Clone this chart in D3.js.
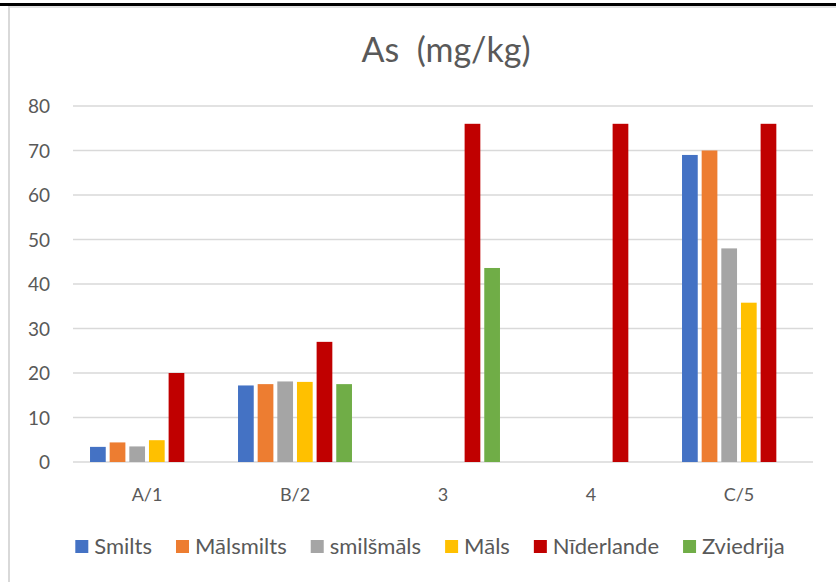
<!DOCTYPE html>
<html><head><meta charset="utf-8">
<script src="https://cdn.jsdelivr.net/npm/d3@7"></script>
<style>body{margin:0;background:#fff}svg{display:block}</style>
</head><body>
<svg id="c" width="836" height="582"></svg>
<script>
const categories = ["A/1","B/2","3","4","C/5"];
const seriesNames = ["Smilts","Mālsmilts","smilšmāls","Māls","Nīderlande","Zviedrija"];
const seriesColors = ["#4472C4","#ED7D31","#A5A5A5","#FFC000","#C00000","#70AD47"];
const smilts     = [3.4, 17.2, null, null, 69];
const malsmilts  = [4.4, 17.5, null, null, 70];
const smilsmals  = [3.5, 18.1, null, null, 48];
const mals       = [4.9, 18.0, null, null, 35.8];
const niderlande = [20, 27, 76, 76, 76];
const zviedrija  = [null, 17.5, 43.6, null, null];
const yTicks = [0,10,20,30,40,50,60,70,80];
const title = "As\u00a0\u00a0(mg/kg)";

const seriesValues = [smilts, malsmilts, smilsmals, mals, niderlande, zviedrija];
const FONT = "Lato, 'Open Sans', sans-serif";
const svg = d3.select("#c");

// frame
svg.append("rect").attr("x",0).attr("y",3).attr("width",836).attr("height",3).attr("fill","#000");
svg.append("line").attr("x1",9).attr("x2",836).attr("y1",7).attr("y2",7).attr("stroke","#d9d9d9").attr("stroke-width",1.5);
svg.append("line").attr("x1",9).attr("x2",9).attr("y1",6).attr("y2",582).attr("stroke","#d9d9d9").attr("stroke-width",2);

const pLeft = 73, pRight = 813, pTop = 106, pBottom = 462;
const x0 = d3.scaleBand().domain(categories).range([pLeft,pRight]).paddingInner(0.23).paddingOuter(0.115);
const x1 = d3.scaleBand().domain(seriesNames).range([0,x0.bandwidth()]).paddingInner(0.2).paddingOuter(0);
const y = d3.scaleLinear().domain([0,80]).range([pBottom,pTop]);

// title
svg.append("text").attr("x",446).attr("y",62).attr("text-anchor","middle")
  .attr("font-family",FONT).attr("font-size",34).attr("fill","#595959").text(title);

// grid
svg.append("g").selectAll("line").data(yTicks).join("line")
  .attr("x1",pLeft).attr("x2",pRight).attr("y1",d=>y(d)).attr("y2",d=>y(d))
  .attr("stroke","#d9d9d9").attr("stroke-width",1.5);

// y labels
const yAxis = d3.axisLeft(y).tickValues(yTicks).tickSize(0).tickPadding(0);
const gy = svg.append("g").attr("transform",`translate(50,0)`).call(yAxis);
gy.select(".domain").remove();
gy.selectAll("text").attr("font-family",FONT).attr("font-size",19).attr("fill","#595959").attr("dy","0.35em");

// x labels
const xAxis = d3.axisBottom(x0).tickSize(0).tickPadding(0);
const gx = svg.append("g").attr("transform",`translate(0,501)`).call(xAxis);
gx.select(".domain").remove();
gx.selectAll("text").attr("font-family",FONT).attr("font-size",18).attr("fill","#595959").attr("dy","0");

// bars
const bars = [];
categories.forEach((c,ci)=>seriesNames.forEach((s,si)=>{
  const v = seriesValues[si][ci];
  if (v!=null) bars.push({c,s,si,v});
}));
svg.append("g").selectAll("rect").data(bars).join("rect")
  .attr("x",d=>x0(d.c)+x1(d.s)).attr("width",x1.bandwidth())
  .attr("y",d=>y(d.v)).attr("height",d=>y(0)-y(d.v))
  .attr("fill",d=>seriesColors[d.si]);

// legend
const lg = svg.append("g");
const items = lg.selectAll("g").data(seriesNames).join("g");
items.append("rect").attr("width",13).attr("height",13).attr("y",-14).attr("fill",(d,i)=>seriesColors[i]);
items.append("text").attr("x",19).attr("font-family",FONT).attr("font-size",22).attr("fill","#595959").text(d=>d);
const widths = [];
items.each(function(){ widths.push(19 + this.querySelector("text").getComputedTextLength()); });
const gap = 24;
const total = d3.sum(widths) + gap*(widths.length-1);
let cx = 430 - total/2;
items.attr("transform",(d,i)=>{ const t=`translate(${cx},554)`; cx += widths[i]+gap; return t; });
</script>
</body></html>
